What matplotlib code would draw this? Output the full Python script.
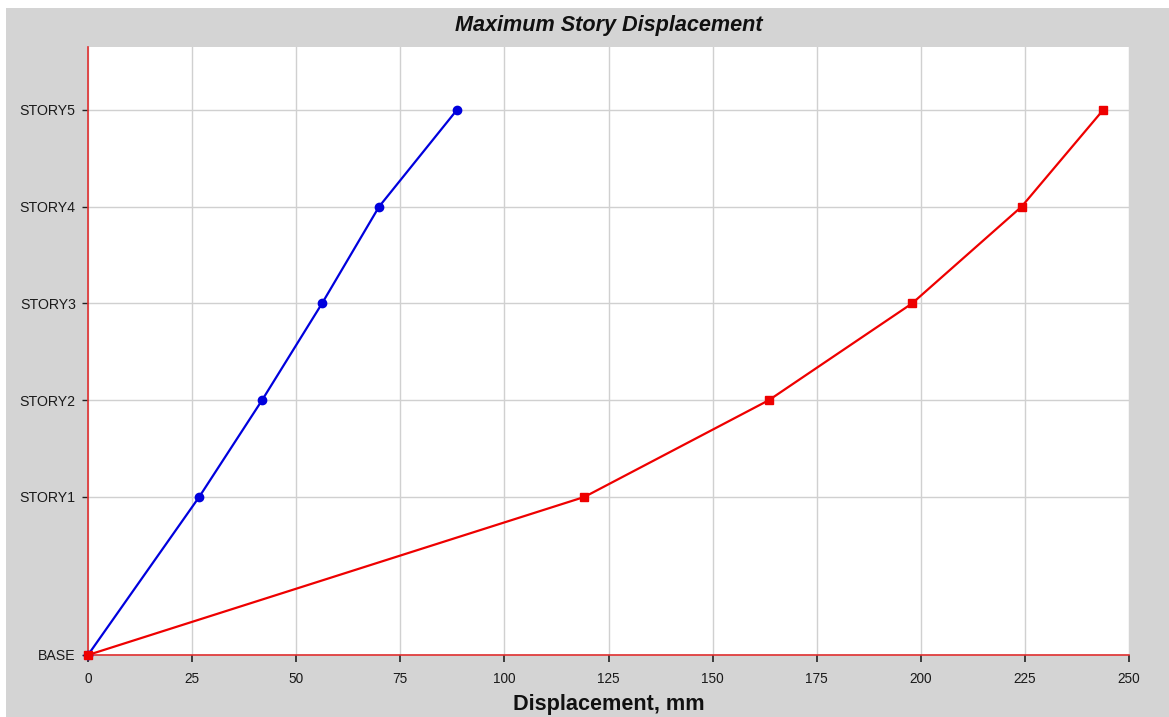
import matplotlib
matplotlib.use("Agg")
import matplotlib.pyplot as plt
from matplotlib.patches import Rectangle

# Data
stories = ["BASE", "STORY1", "STORY2", "STORY3", "STORY4", "STORY5"]
elevations = [0.0, 4.9, 7.9, 10.9, 13.9, 16.9]
disp_blue = [0.0, 26.7, 41.8, 56.2, 69.9, 88.6]
disp_red = [0.0, 119.2, 163.5, 197.9, 224.2, 243.8]
xticks = [0, 25, 50, 75, 100, 125, 150, 175, 200, 225, 250]

plt.rcParams['font.family'] = ['Liberation Sans', 'DejaVu Sans']

W, H = 1169, 717
fig = plt.figure(figsize=(W / 100, H / 100), dpi=100)
fig.patch.set_facecolor('white')
fig.patches.append(Rectangle((6 / W, 0), 1 - 6 / W, (H - 8) / H,
                             transform=fig.transFigure, facecolor='#d4d4d4',
                             edgecolor='none', zorder=-10))

left, right, top, bottom = 88, 1129, 46.7, 655
ax = fig.add_axes([left / W, 1 - bottom / H, (right - left) / W, (bottom - top) / H])
ax.set_facecolor('white')

ax.plot(disp_blue, elevations, color='#0000dd', lw=1.6, marker='o', ms=6,
        clip_on=False, zorder=3)
ax.plot(disp_red, elevations, color='#ee0000', lw=1.6, marker='s', ms=5.5,
        clip_on=False, zorder=4)

ax.set_xlim(0, 250)
ax.set_ylim(0, 18.86)
ax.set_xticks(xticks)
ax.set_xticklabels([str(t) for t in xticks], fontsize=9.8, color='#1a1a1a')
ax.set_yticks(elevations)
ax.set_yticklabels(stories, fontsize=10.2, color='#1a1a1a')
ax.grid(True, color='#d0d0d0', lw=1)
ax.set_axisbelow(True)

for s in ['top', 'right']:
    ax.spines[s].set_visible(False)
for s in ['left', 'bottom']:
    ax.spines[s].set_color('#e03030')
    ax.spines[s].set_linewidth(1.2)
ax.tick_params(axis='x', direction='out', length=5, width=1.2, color='#222222', pad=7.5)
ax.tick_params(axis='y', direction='out', length=4.3, width=1, color='#222222', pad=4.5)

fig.text((left + right) / 2 / W, 1 - 710 / H, 'Displacement, mm',
         ha='center', va='baseline', fontsize=15.6, fontweight='bold', color='#111111')
fig.text((left + right) / 2 / W, 1 - 31 / H, 'Maximum Story Displacement',
         ha='center', va='baseline', fontsize=15.6, fontweight='bold', style='italic',
         color='#111111')

fig.savefig('out.png', dpi=100, facecolor=fig.get_facecolor())
